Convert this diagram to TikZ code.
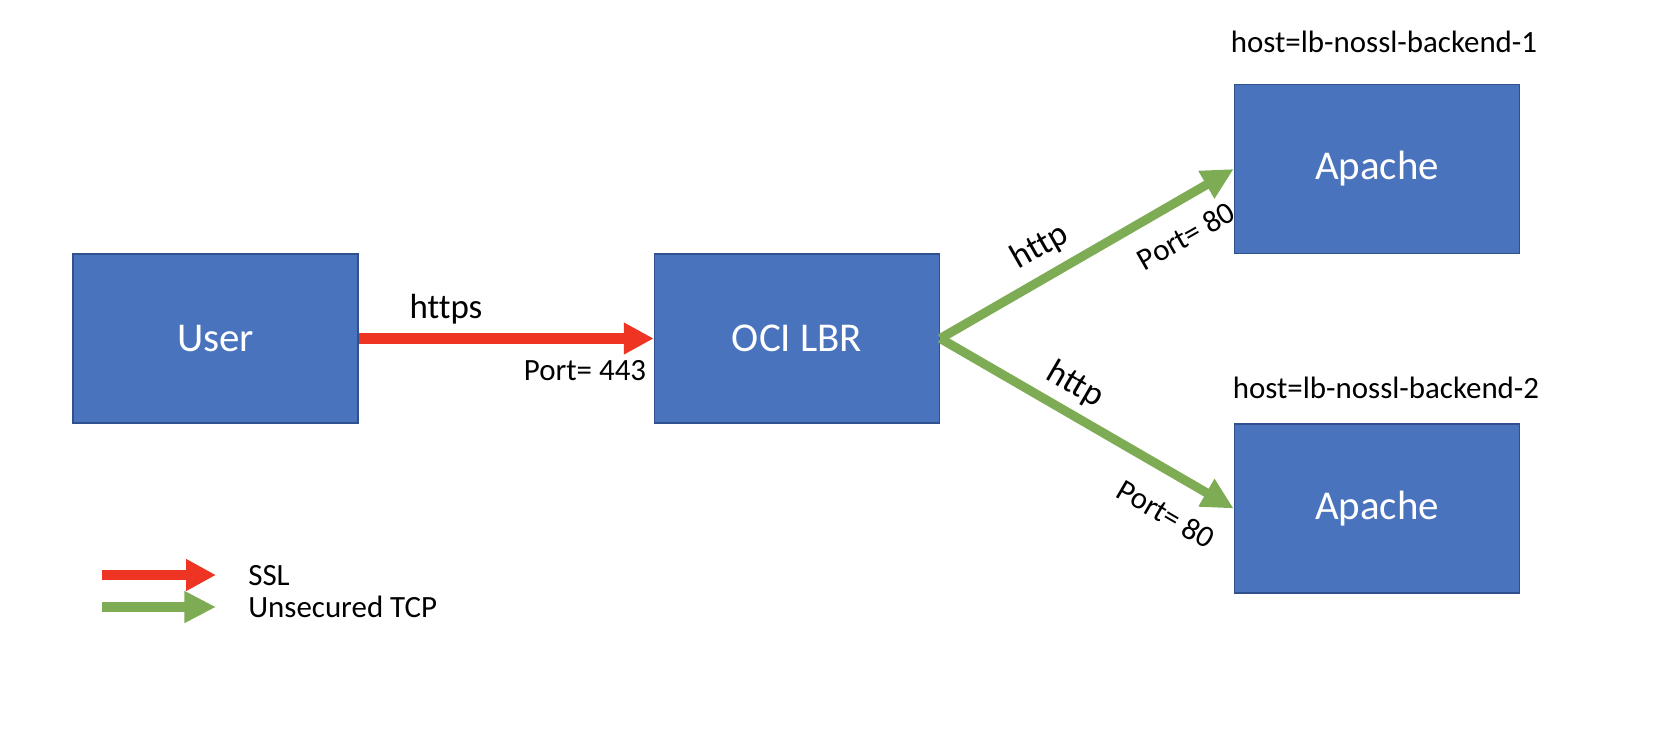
\documentclass[tikz,border=0pt]{standalone}
\usepackage{fontspec}
\setmainfont[Ligatures=NoCommon]{Carlito}
\usetikzlibrary{arrows.meta}
\definecolor{boxfill}{HTML}{4A73BD}
\definecolor{boxline}{HTML}{2F528F}
\definecolor{sslred}{HTML}{EE3524}
\definecolor{tcpgreen}{HTML}{7EAC55}
\tikzset{
  srv/.style={draw=boxline, line width=0.9pt, fill=boxfill, minimum width=285*0.5691pt, minimum height=169*0.5691pt, inner sep=0pt, text=white, font=\fontsize{23.3pt}{28pt}\selectfont},
  lbl/.style={inner sep=0pt, font=\fontsize{17.6pt}{21pt}\selectfont},
  biglbl/.style={inner sep=0pt, font=\fontsize{19.9pt}{24pt}\selectfont},
  sslarrow/.style={draw=sslred, line width=5.7pt, -{Triangle[length=17pt, width=17pt]}, sslred},
  tcparrow/.style={draw=tcpgreen, line width=5.2pt, -{Triangle[length=18pt, width=17pt]}, tcpgreen},
}
\begin{document}
\begin{tikzpicture}[x=0.02cm, y=-0.02cm]
\useasboundingbox (0,0) rectangle (1672,750);
\node[srv] (user) at (215.5,338.5) {User};
\node[srv] (lbr) at (797,338.5) {OCI LBR};
\node[srv] (ap1) at (1377,169) {Apache};
\node[srv] (ap2) at (1377,508.5) {Apache};

\draw[sslarrow] (user) -- (lbr);
\draw[tcparrow] (lbr.east) -- (ap1.west);
\draw[tcparrow] (lbr.east) -- (ap2.west);

\node[biglbl] (https) at (446,309) {https};
\node[lbl, anchor=base] (p443) at (585,380) {Port= 443};
\node[biglbl, rotate=29.7] (http1) at (1040,247) {http};
\node[lbl, rotate=29.7] (p80a) at (1186,236) {Port= 80};
\node[biglbl, rotate=-30.2] (http2) at (1075,385) {http};
\node[lbl, rotate=-30.2] (p80b) at (1166,514) {Port= 80};

\node[lbl, anchor=base] (h1) at (1384,53) {host=lb-nossl-backend-1};
\node[lbl, anchor=base] (h2) at (1386,398) {host=lb-nossl-backend-2};

\coordinate (la) at (102,575);
\coordinate (lb) at (216,575);
\coordinate (lc) at (102,607);
\coordinate (ld) at (216,607);
\draw[sslarrow] (la) -- (lb);
\draw[tcparrow] (lc) -- (ld);
\node[lbl, anchor=base west] (lssl) at (248,585) {SSL};
\node[lbl, anchor=base west] (ltcp) at (248,617) {Unsecured TCP};
\end{tikzpicture}
\end{document}
